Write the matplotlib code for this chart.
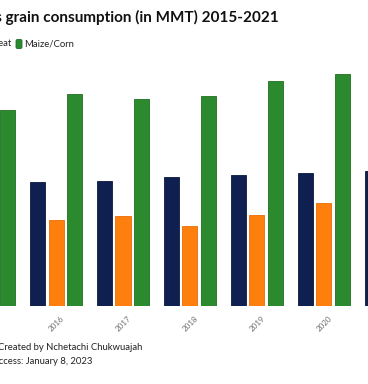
import numpy as np
import matplotlib.pyplot as plt
from matplotlib.patches import FancyBboxPatch

# data (MMT)
years = ['2015', '2016', '2017', '2018', '2019', '2020', '2021']
rice = [6.7, 6.9, 6.95, 7.15, 7.3, 7.4, 7.5]
wheat = [4.6, 4.8, 5.0, 4.45, 5.05, 5.7, 5.9]
maize = [10.9, 11.8, 11.5, 11.65, 12.5, 12.9, 13.2]

series = [('Rice', rice, '#0e1f50', '#0a1840'),
          ('Wheat', wheat, '#ff7f0e', '#e86f05'),
          ('Maize/Corn', maize, '#2c8a2e', '#1f6e22')]

plt.rcParams['font.family'] = ['Lato', 'DejaVu Sans']

W, H = 368, 384
fig = plt.figure(figsize=(W / 100, H / 100), dpi=100)
fig.patch.set_facecolor('white')

# axes placed in pixel terms: baseline at y=306, top at y=54
ax = fig.add_axes([0, 1 - 306 / H, 1, 252 / H])
x = np.arange(len(years))
bw = 0.224
step = 0.269
for k, (name, vals, col, edge) in enumerate(series):
    ax.bar(x + (k - 1) * step, vals, width=bw, color=col,
           edgecolor=edge, linewidth=0.6)

ax.set_xticks(x)
ax.set_xticklabels(years, rotation=45, ha='center', fontsize=5.8, color='#6f6f6f')
ax.tick_params(axis='x', length=0, pad=6)
ax.set_yticks([])
# the source image is cropped, so only part of the x range shows
ax.set_xlim(0.164, 5.657)
ax.set_ylim(0, 14)
for s in ax.spines.values():
    s.set_visible(False)

# title and legend (chart is cropped on the left)
fig.text(279 / W, 1 - 17 / H, "Nigeria's grain consumption (in MMT) 2015-2021",
         ha='right', va='center', fontsize=11, fontweight='bold', color='#111111')

fig.text(12 / W, 1 - 44 / H, 'Wheat', ha='right', va='center', fontsize=6.8, color='#222222')
fig.add_artist(FancyBboxPatch((16 / W, 1 - 48.5 / H), 6 / W, 9 / H,
                              boxstyle='round,pad=0,rounding_size=0.004',
                              transform=fig.transFigure, facecolor=series[2][2],
                              edgecolor=series[2][3], linewidth=0.6))
fig.text(24 / W, 1 - 44 / H, 'Maize/Corn', ha='left', va='center', fontsize=6.8, color='#222222')

# footer
fig.text(142 / W, 1 - 348 / H, 'Chart: Created by Nchetachi Chukwuajah',
         ha='right', va='center', fontsize=6.8, color='#222222')
fig.text(92 / W, 1 - 361 / H, 'Date of access: January 8, 2023',
         ha='right', va='center', fontsize=6.8, color='#222222')

fig.savefig('out.png', dpi=100)
